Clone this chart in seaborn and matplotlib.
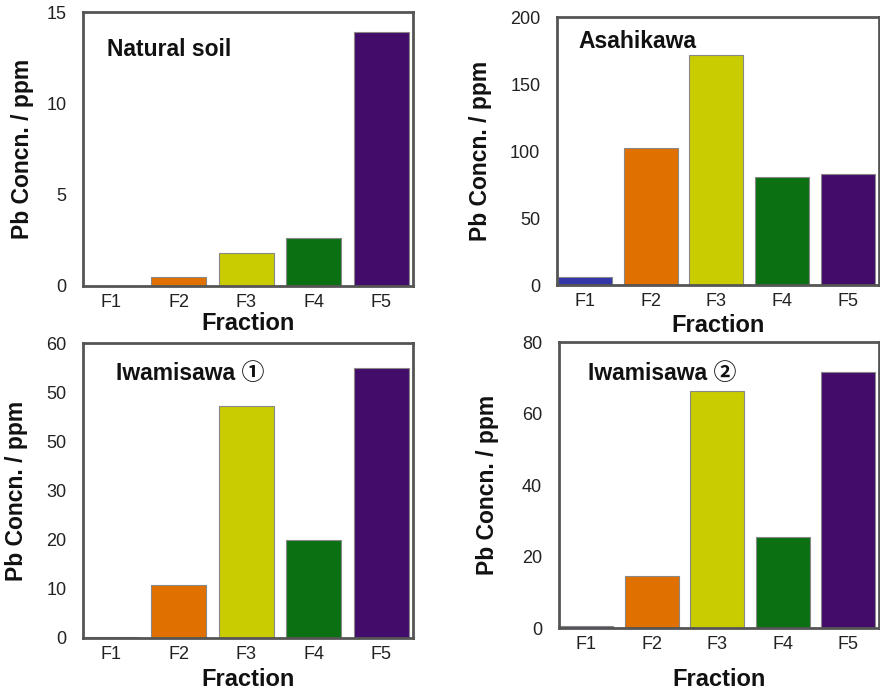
import matplotlib
matplotlib.use("Agg")
import matplotlib.pyplot as plt
from matplotlib.ticker import FixedLocator
import seaborn as sns
import pandas as pd

sns.set_style("white")
plt.rcParams['font.family'] = ['Liberation Sans', 'DejaVu Sans']

fractions = ["F1", "F2", "F3", "F4", "F5"]
colors = ["#3236a8", "#e07000", "#c8cc00", "#0b7012", "#430c6a"]

titles = ["Natural soil", "Asahikawa", "Iwamisawa \u2460", "Iwamisawa \u2461"]
natural_soil = [0.0, 0.48, 1.8, 2.65, 13.9]
asahikawa = [6.0, 102.0, 172.0, 80.5, 83.0]
iwamisawa1 = [0.3, 10.7, 47.2, 20.0, 55.0]
iwamisawa2 = [0.5, 14.6, 66.3, 25.6, 71.5]
series = [natural_soil, asahikawa, iwamisawa1, iwamisawa2]

yticks = [[0, 5, 10, 15], [0, 50, 100, 150, 200],
          [0, 10, 20, 30, 40, 50, 60], [0, 20, 40, 60, 80]]
yticklabels = [["0", "5", "10", "15"], ["0", "50", "100", "150", "200"],
               ["0", "10", "20", "30", "50", "50", "60"], ["0", "20", "40", "60", "80"]]

fig = plt.figure(figsize=(8.8, 6.94), dpi=100)
positions = [
    [0.0943, 0.5879, 0.375, 0.3948],
    [0.633, 0.5893, 0.366, 0.386],
    [0.0943, 0.0807, 0.375, 0.425],
    [0.635, 0.0951, 0.364, 0.412],
]
title_pos = [(107, 50), (578, 42), (116, 373), (588, 373)]
ylabel_x = [23, 480, 17, 487]
xlabel_y = [323, 325, 680, 680]

for i in range(4):
    ax = fig.add_axes(positions[i])
    df = pd.DataFrame({"Fraction": fractions, "val": series[i]})
    sns.barplot(data=df, x="Fraction", y="val", hue="Fraction", palette=colors,
                saturation=1, width=0.82, edgecolor="#888888", linewidth=0.8,
                legend=False, ax=ax)
    ax.set_xlim(-0.42, 4.47)
    ax.set_ylim(0, yticks[i][-1])
    ax.set_yticks(yticks[i])
    ax.set_yticklabels(yticklabels[i])
    ax.xaxis.set_minor_locator(FixedLocator([0.5, 1.5, 2.5, 3.5]))
    ax.tick_params(axis="x", which="major", length=0, labelsize=13, pad=6, labelcolor="#222222")
    ax.tick_params(axis="x", which="minor", length=3, direction="in", color="#555555", width=1.2)
    ax.tick_params(axis="y", which="major", length=3, direction="in", color="#aaaaaa",
                   labelsize=13, pad=12, labelcolor="#222222")
    for s in ax.spines.values():
        s.set_visible(True)
        s.set_color("#555555")
        s.set_linewidth(2)
    ax.set_xlabel("")
    ax.set_ylabel("")
    fig.text(title_pos[i][0] / 880, 1 - title_pos[i][1] / 694, titles[i],
             fontsize=16.5, fontweight="bold", ha="left", va="center", color="#111111",
             family=['Liberation Sans', 'Noto Sans CJK JP', 'DejaVu Sans'])
    bb = positions[i]
    fig.text(ylabel_x[i] / 880, bb[1] + bb[3] / 2, "Pb Concn. / ppm", rotation=90,
             fontsize=16.5, fontweight="bold", ha="center", va="center", color="#111111")
    fig.text(bb[0] + bb[2] / 2, 1 - xlabel_y[i] / 694, "Fraction",
             fontsize=17, fontweight="bold", ha="center", va="center", color="#111111")

fig.savefig("out.png", dpi=100)
